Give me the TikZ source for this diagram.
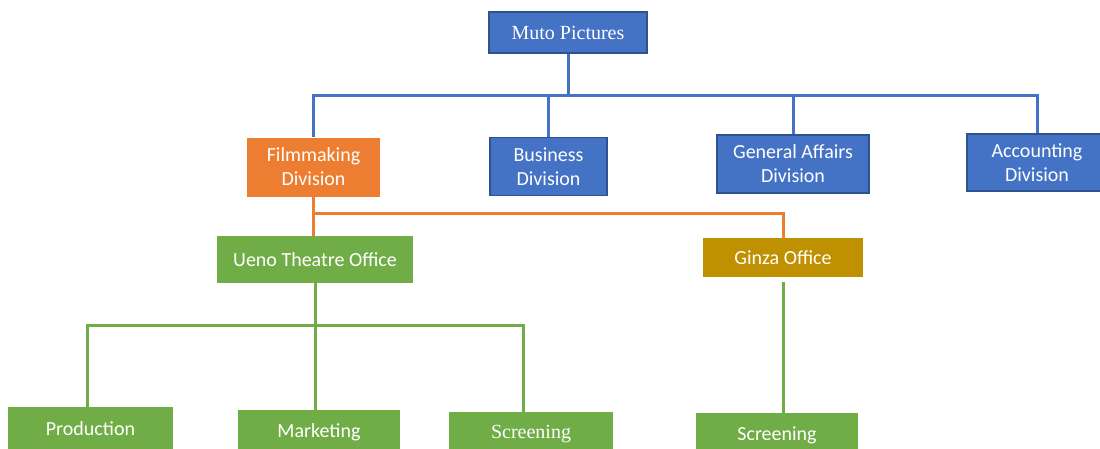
\documentclass[tikz,border=0pt]{standalone}
\usepackage{fontspec}
\setmainfont{Carlito}
\newfontfamily\cambria{Liberation Serif}
\definecolor{orgblue}{HTML}{4472C4}
\definecolor{orgedge}{HTML}{2F528F}
\definecolor{orgorange}{HTML}{ED7D31}
\definecolor{orggreen}{HTML}{70AD47}
\definecolor{orggold}{HTML}{BF9000}
\tikzset{
  unit/.style={text=white, font=\fontsize{20}{24}\selectfont, align=center, inner sep=0pt},
  serifunit/.style={font=\cambria\fontsize{20}{24}\selectfont},
  bluebox/.style={unit, fill=orgblue, draw=orgedge, line width=1.5pt},
  orangebox/.style={unit, fill=orgorange},
  greenbox/.style={unit, fill=orggreen},
  goldbox/.style={unit, fill=orggold},
  blueline/.style={draw=orgblue, line width=3pt},
  orangeline/.style={draw=orgorange, line width=3pt},
  greenline/.style={draw=orggreen, line width=3pt}
}
\begin{document}
\begin{tikzpicture}[x=1pt, y=-1pt]
      \clip (0,0) rectangle (1100,448);
      \fill[white] (0,0) rectangle (1100,448);

      % Top
      \node[bluebox, serifunit, minimum width=158pt, minimum height=41pt] (muto) at (568,32.5) {Muto Pictures};
      % Divisions
      \node[orangebox, minimum width=133pt, minimum height=59pt] (film) at (313.5,167) {Filmmaking\\Division};
      \node[bluebox, minimum width=117pt, minimum height=58pt] (bus) at (548.5,166.5) {Business\\Division};
      \node[bluebox, minimum width=152pt, minimum height=58pt] (gen) at (793,164) {General Affairs\\Division};
      \node[bluebox, minimum width=140pt, minimum height=57pt] (acc) at (1037,162.5) {Accounting\\Division};
      % Offices
      \node[greenbox, minimum width=196pt, minimum height=47pt] (ueno) at (315,259.5) {Ueno Theatre Office};
      \node[goldbox, minimum width=160pt, minimum height=39pt] (ginza) at (783,257.5) {Ginza Office};
      % Sections
      \node[greenbox, minimum width=165pt, minimum height=44pt] (prod) at (90.5,429) {Production};
      \node[greenbox, minimum width=162pt, minimum height=44pt] (mark) at (319,432) {Marketing};
      \node[greenbox, serifunit, minimum width=164pt, minimum height=44pt] (scrA) at (531,434) {Screening};
      \node[greenbox, minimum width=162pt, minimum height=44pt] (scrB) at (777,435) {Screening};

      % Blue links
      \coordinate (topbus) at (566,95);
      \draw[blueline] (muto.south) -- (muto.south |- topbus);
      \draw[blueline] (film.north) |- (topbus) -| (acc.north);
      \draw[blueline] (bus.north) -- (bus.north |- topbus);
      \draw[blueline] (gen.north) -- (gen.north |- topbus);
      % Orange links
      \coordinate (filmbus) at (314,213);
      \draw[orangeline] (film.south) -- (film.south |- ueno.north);
      \draw[orangeline] (filmbus) -| (ginza.north);
      % Green links
      \coordinate (uenobus) at (318,325);
      \draw[greenline] (ueno.south) -- (ueno.south |- mark.north);
      \draw[greenline] ([xshift=-3.5pt]prod.north) |- (uenobus) -| ([xshift=-8pt]scrA.north);
      \draw[greenline] ([yshift=-5pt]ginza.south) -- (ginza.south |- scrB.north);
    \end{tikzpicture}
\end{document}
